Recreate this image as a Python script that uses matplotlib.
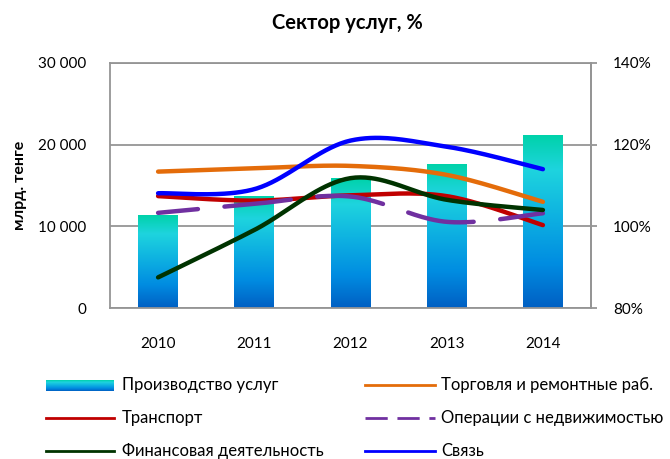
import numpy as np
import matplotlib.pyplot as plt
from matplotlib.colors import LinearSegmentedColormap
from matplotlib.lines import Line2D

plt.rcParams['font.family'] = ['Lato', 'DejaVu Sans']

# Data
years = ['2010', '2011', '2012', '2013', '2014']
services = [11300, 13700, 15900, 17600, 21100]   # млрд. тенге
trade = [113.4, 114.2, 114.8, 112.6, 106.0]
transport = [107.4, 106.3, 107.6, 107.4, 100.3]
realty = [103.3, 105.5, 107.3, 101.1, 103.2]
finance = [87.5, 99.1, 111.8, 106.5, 104.0]
telecom = [108.1, 109.1, 121.0, 119.5, 114.0]

left_ticks = [0, 10000, 20000, 30000]
left_labels = ['0', '10 000', '20 000', '30 000']
right_ticks = [80, 100, 120, 140]
right_labels = ['80%', '100%', '120%', '140%']

grad = LinearSegmentedColormap.from_list('bars', [
    (0.0, (0/255, 95/255, 195/255)),
    (0.25, (0/255, 140/255, 225/255)),
    (0.55, (15/255, 180/255, 225/255)),
    (0.80, (30/255, 212/255, 222/255)),
    (1.0, (0/255, 210/255, 170/255)),
])


def smooth(x, y, n=40):
    # catmull-rom smoothing, like excel's smoothed lines
    x = np.asarray(x, float)
    y = np.asarray(y, float)
    px = np.concatenate([[x[0]], x, [x[-1]]])
    py = np.concatenate([[y[0]], y, [y[-1]]])
    xs, ys = [], []
    t = np.linspace(0, 1, n)
    h00 = 2 * t**3 - 3 * t**2 + 1
    h10 = t**3 - 2 * t**2 + t
    h01 = -2 * t**3 + 3 * t**2
    h11 = t**3 - t**2
    for i in range(1, len(px) - 2):
        for p, out in ((px, xs), (py, ys)):
            p0, p1, p2, p3 = p[i - 1], p[i], p[i + 1], p[i + 2]
            m1 = (p2 - p0) / 2
            m2 = (p3 - p1) / 2
            out.extend(h00 * p1 + h10 * m1 + h01 * p2 + h11 * m2)
    return np.array(xs), np.array(ys)


fig = plt.figure(figsize=(6.7, 4.59), dpi=100)
ax = fig.add_axes([110 / 670, 1 - 308 / 459, 481 / 670, 245 / 459])
ax2 = ax.twinx()

x = np.arange(len(years))
bw = 0.415
grad_img = np.linspace(0, 1, 256).reshape(-1, 1)
for xi, v in zip(x, services):
    ax.imshow(grad_img, cmap=grad, origin='lower', aspect='auto',
              extent=[xi - bw / 2, xi + bw / 2, 0, v], zorder=2)

ax.set_xlim(-0.5, 4.5)
ax.set_ylim(0, 30000)
ax.set_yticks(left_ticks)
ax.set_yticklabels(left_labels, fontsize=11)
ax.set_xticks(x)
ax.set_xticklabels(years, fontsize=11)
ax.tick_params(axis='y', length=0, pad=17)
ax.tick_params(axis='x', length=0, pad=21)
ax.grid(axis='y', color='#959595', lw=1.3)
ax.set_axisbelow(True)
for s in ax.spines.values():
    s.set_color('#959595')
    s.set_linewidth(1.3)
ax.set_ylabel('млрд. тенге', fontsize=11.5, fontweight='bold', labelpad=8)

realty_dash = (6, (15, 6))
series = [
    (trade, '#E46C0A', '-'),
    (transport, '#C00000', '-'),
    (realty, '#7030A0', realty_dash),
    (finance, '#003300', '-'),
    (telecom, '#0000FF', '-'),
]
for vals, col, ls in series:
    sx, sy = smooth(x, vals)
    ax2.plot(sx, sy, color=col, lw=3.2, ls=ls, solid_capstyle='round',
             dash_capstyle='round', zorder=3)

ax2.set_ylim(80, 140)
ax2.set_yticks(right_ticks)
ax2.set_yticklabels(right_labels, fontsize=11)
ax2.tick_params(axis='y', length=4, width=1.3, color='#959595', pad=12)
for s in ax2.spines.values():
    s.set_visible(False)
ax2.spines['right'].set_visible(True)
ax2.spines['right'].set_color('#959595')
ax2.spines['right'].set_linewidth(1.3)

fig.text(347 / 670, 1 - 23 / 459, 'Сектор услуг, %', ha='center', va='center',
         fontsize=14.5, fontweight='bold')

# legend drawn by hand (gradient swatch)
W, H = 670, 459
rows = [385, 418, 451]
cols = [(46, 114, 122), (365, 435, 441)]
entries = [
    ('Производство услуг', None, None),
    ('Торговля и ремонтные раб.', '#E46C0A', '-'),
    ('Транспорт', '#C00000', '-'),
    ('Операции с недвижимостью', '#7030A0', (0, (8, 3.5))),
    ('Финансовая деятельность', '#003300', '-'),
    ('Связь', '#0000FF', '-'),
]
for i, (lab, col, ls) in enumerate(entries):
    x0, x1, xt = cols[i % 2]
    yy = 1 - rows[i // 2] / H
    if col is None:
        lax = fig.add_axes([x0 / W, yy - 5.5 / H, (x1 - x0) / W, 11 / H])
        lax.imshow(grad_img, cmap=grad, origin='lower', aspect='auto')
        lax.axis('off')
    else:
        fig.add_artist(Line2D([x0 / W, x1 / W], [yy, yy], color=col, lw=2.0,
                              ls=ls, transform=fig.transFigure))
    fig.text(xt / W, yy, lab, ha='left', va='center', fontsize=12)

fig.savefig('out.png', dpi=100)
